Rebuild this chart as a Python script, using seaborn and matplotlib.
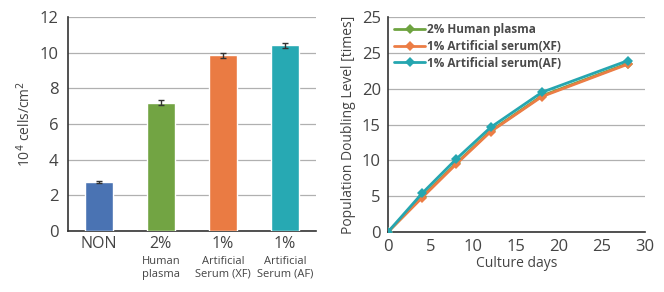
import numpy as np
import pandas as pd
import matplotlib.pyplot as plt
import seaborn as sns

# bar chart data
groups = ["NON", "2%", "1%", "1% "]
sub_labels = ["", "Human\nplasma", "Artificial\nSerum (XF)", "Artificial\nSerum (AF)"]
cell_counts = [2.75, 7.2, 9.85, 10.4]
cell_err = [0.05, 0.15, 0.15, 0.15]
bar_colors = ["#4a73b3", "#72a443", "#ea7b43", "#27a9b3"]

# growth curve data
days = [0, 4, 8, 12, 18, 28]
pdl_plasma = [0, 4.9, 9.6, 14.1, 19.0, 23.5]
pdl_xf = [0, 4.8, 9.5, 14.0, 18.9, 23.4]
pdl_af = [0, 5.4, 10.2, 14.6, 19.5, 23.9]
series_names = ["2% Human plasma", "1% Artificial serum(XF)", "1% Artificial serum(AF)"]
line_colors = ["#6ea340", "#ec7d45", "#25a6b0"]

sns.set_style("white")
plt.rcParams['font.family'] = ['Open Sans', 'DejaVu Sans']
text_col = "#444444"

fig = plt.figure(figsize=(6.64, 2.92), dpi=100)
ax1 = fig.add_axes([0.102, 0.209, 0.374, 0.733])
ax2 = fig.add_axes([0.584, 0.205, 0.387, 0.737])

# ---- left: bar chart ----
bar_df = pd.DataFrame({"group": groups, "value": cell_counts})
sns.barplot(data=bar_df, x="group", y="value", hue="group", palette=bar_colors,
            saturation=1, width=0.45, legend=False, ax=ax1, zorder=3)
ax1.errorbar(range(len(groups)), cell_counts, yerr=cell_err, fmt="none",
             ecolor="#333333", elinewidth=1, capsize=2, zorder=4)
ax1.set_ylim(0, 12)
ax1.set_xlim(-0.5, 3.5)
ax1.set_yticks(range(0, 13, 2))
ax1.yaxis.grid(True, color="#b0b0b0", linewidth=0.9)
ax1.set_axisbelow(True)
ax1.set_xlabel("")
ax1.set_ylabel("10$^4$ cells/cm$^2$", fontsize=10, color=text_col)
ax1.set_xticks([0.5, 1.5, 2.5, 3.5])
ax1.set_xticklabels([])
ax1.tick_params(axis="x", direction="out", length=4, color="#333333", width=1)
ax1.tick_params(axis="y", labelsize=12, colors=text_col, length=3, width=1)
for i, (g, s) in enumerate(zip(groups, sub_labels)):
    ax1.text(i, -0.3, g.strip(), ha="center", va="top", fontsize=11.5, color=text_col)
    if s:
        ax1.text(i, -1.4, s, ha="center", va="top", fontsize=8,
                 color=text_col, linespacing=1.25)
for side in ["top", "right"]:
    ax1.spines[side].set_visible(False)
for side in ["left", "bottom"]:
    ax1.spines[side].set_color("#333333")
    ax1.spines[side].set_linewidth(1.2)

# ---- right: growth curves ----
curve_df = pd.DataFrame({
    "day": days * 3,
    "pdl": pdl_plasma + pdl_xf + pdl_af,
    "series": sum([[n] * len(days) for n in series_names], []),
})
for name, col in zip(series_names, line_colors):
    sub = curve_df[curve_df["series"] == name]
    sns.lineplot(data=sub, x="day", y="pdl", color=col, marker="D", markersize=5,
                 markeredgewidth=0, linewidth=2, label=name, ax=ax2, zorder=3)
ax2.set_xlim(0, 30)
ax2.set_ylim(0, 30)
ax2.set_xticks(range(0, 31, 5))
ax2.set_yticks(range(0, 31, 5))
ax2.set_yticklabels(["0", "5", "10", "15", "20", "25", "25"])
ax2.yaxis.grid(True, color="#b0b0b0", linewidth=0.9)
ax2.set_axisbelow(True)
ax2.set_xlabel("Culture days", fontsize=10, color=text_col, labelpad=1)
ax2.set_ylabel("Population Doubling Level [times]", fontsize=10, color=text_col)
ax2.tick_params(axis="both", labelsize=12, colors=text_col, length=3, width=1, pad=2)
for side in ["top", "right"]:
    ax2.spines[side].set_visible(False)
for side in ["left", "bottom"]:
    ax2.spines[side].set_color("#333333")
    ax2.spines[side].set_linewidth(1.2)
leg = ax2.legend(loc="upper left", frameon=False, handlelength=2.6,
                 handletextpad=0.2, labelspacing=0.3, borderaxespad=0.15,
                 prop={"weight": "bold", "size": 8.5})
for t in leg.get_texts():
    t.set_color("#4a4a4a")

fig.savefig("out.png", dpi=100)
